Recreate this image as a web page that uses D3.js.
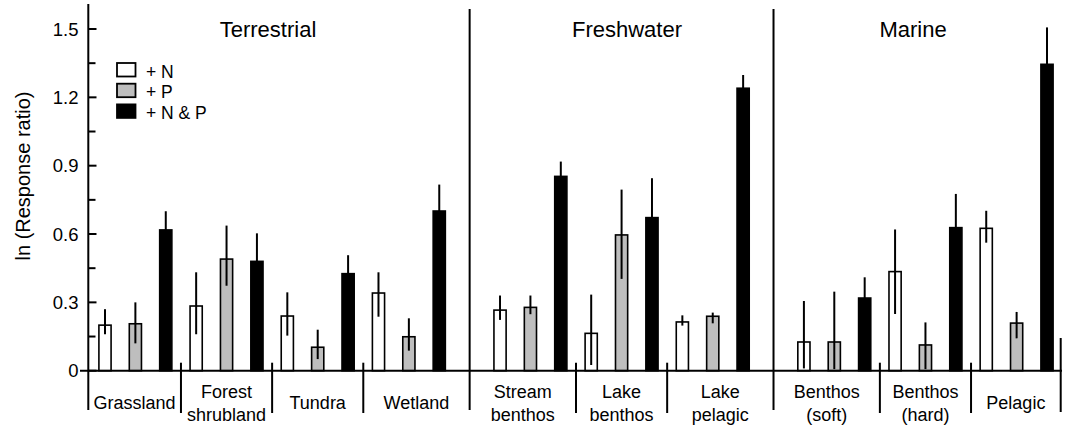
<!DOCTYPE html>
<html>
<head>
<meta charset="utf-8">
<script src="https://cdn.jsdelivr.net/npm/d3@7"></script>
<style>
  html, body { margin: 0; padding: 0; background: #fff; }
  svg { display: block; font-family: "Liberation Sans", Arial, Helvetica, sans-serif; }
</style>
</head>
<body>
<svg id="chart" width="1065" height="429"></svg>
<script>
// ---- data ----
const categories = ["Grassland", "Forest shrubland", "Tundra", "Wetland",
  "Stream benthos", "Lake benthos", "Lake pelagic",
  "Benthos (soft)", "Benthos (hard)", "Pelagic"];
const categoryLines = [["Grassland"], ["Forest", "shrubland"], ["Tundra"], ["Wetland"],
  ["Stream", "benthos"], ["Lake", "benthos"], ["Lake", "pelagic"],
  ["Benthos", "(soft)"], ["Benthos", "(hard)"], ["Pelagic"]];
const sections = ["Terrestrial", "Freshwater", "Marine"];
const sectionCounts = [4, 3, 3];
const seriesNames = ["+ N", "+ P", "+ N & P"];

const valN  = [0.200, 0.284, 0.240, 0.341, 0.266, 0.164, 0.214, 0.126, 0.435, 0.625];
const hiN   = [0.270, 0.432, 0.344, 0.432, 0.330, 0.334, 0.243, 0.306, 0.620, 0.702];
const loN   = [0.160, 0.160, 0.154, 0.237, 0.223, 0.025, 0.198, 0.010, 0.249, 0.562];
const valP  = [0.206, 0.490, 0.103, 0.149, 0.278, 0.596, 0.239, 0.126, 0.113, 0.209];
const hiP   = [0.300, 0.637, 0.180, 0.230, 0.330, 0.795, 0.255, 0.347, 0.212, 0.258];
const loP   = [0.120, 0.373, 0.051, 0.088, 0.248, 0.403, 0.208, 0.007, 0.007, 0.142];
const valNP = [0.618, 0.480, 0.426, 0.701, 0.853, 0.672, 1.240, 0.319, 0.628, 1.345];
const hiNP  = [0.700, 0.603, 0.507, 0.817, 0.918, 0.845, 1.298, 0.410, 0.776, 1.507];
const loNP  = [0.536, 0.357, 0.345, 0.585, 0.788, 0.499, 1.182, 0.228, 0.480, 1.183];

const yTicks = [0, 0.3, 0.6, 0.9, 1.2, 1.5];
const yTickLabels = ["0", "0.3", "0.6", "0.9", "1.2", "1.5"];
const yMinorTicks = [0.15, 0.45, 0.75, 1.05, 1.35];

// ---- layout ----
const svg = d3.select("#chart");
const fills = ["#ffffff", "#bebebe", "#000000"];
const seriesVals = [valN, valP, valNP];
const seriesHi = [hiN, hiP, hiNP];
const seriesLo = [loN, loP, loNP];

// slot layout: 3 bars per category, one empty slot between sections
const slotOf = [];
const sectionStartSlot = [];
const sectionEndSlot = [];
let slot = 0, ci = 0;
sectionCounts.forEach((cnt) => {
  sectionStartSlot.push(slot);
  for (let k = 0; k < cnt; k++) {
    slotOf[ci] = [slot, slot + 1, slot + 2];
    slot += 3; ci++;
  }
  sectionEndSlot.push(slot - 1);
  slot += 1;
});
const nSlots = slot - 1;

const x = d3.scaleBand()
  .domain(d3.range(nSlots))
  .range([89.8, 1062.2])
  .paddingInner(0.55)
  .paddingOuter(0.275);
const step = x.step();
const cx = s => x(s) + x.bandwidth() / 2;

const y = d3.scaleLinear().domain([0, 1.5]).range([370.7, 29]);
const y0 = y(0);

// bars
const barData = [];
categories.forEach((c, i) => {
  for (let s = 0; s < 3; s++) {
    barData.push({ c: i, s, v: seriesVals[s][i], hi: seriesHi[s][i], lo: seriesLo[s][i] });
  }
});
const bw = x.bandwidth();
svg.append("g").selectAll("rect").data(barData).join("rect")
  .attr("x", d => x(slotOf[d.c][d.s]) + 0.75)
  .attr("width", bw - 1.5)
  .attr("y", d => y(d.v))
  .attr("height", d => y0 - y(d.v))
  .attr("fill", d => fills[d.s])
  .attr("stroke", "#000")
  .attr("stroke-width", 1.6);

// error bars
svg.append("g").selectAll("line").data(barData).join("line")
  .attr("x1", d => cx(slotOf[d.c][d.s]))
  .attr("x2", d => cx(slotOf[d.c][d.s]))
  .attr("y1", d => y(d.lo))
  .attr("y2", d => y(d.hi))
  .attr("stroke", "#000")
  .attr("stroke-width", 2);

// y axis
const axisG = svg.append("g");
axisG.append("line").attr("x1", 88.3).attr("x2", 88.3).attr("y1", 4).attr("y2", 410)
  .attr("stroke", "#000").attr("stroke-width", 2);
axisG.selectAll(".maj").data(yTicks).join("line")
  .attr("x1", 88.3).attr("x2", 96.5)
  .attr("y1", d => y(d)).attr("y2", d => y(d))
  .attr("stroke", "#000").attr("stroke-width", 2);
axisG.selectAll(".min").data(yMinorTicks).join("line")
  .attr("x1", 88.3).attr("x2", 95.5)
  .attr("y1", d => y(d)).attr("y2", d => y(d))
  .attr("stroke", "#000").attr("stroke-width", 2);
axisG.selectAll("text").data(yTicks).join("text")
  .attr("x", 78.5).attr("y", d => y(d))
  .attr("dy", "0.36em")
  .attr("text-anchor", "end")
  .attr("font-size", 18.5)
  .text((d, i) => yTickLabels[i]);

svg.append("text")
  .attr("transform", "translate(30,176) rotate(-90)")
  .attr("text-anchor", "middle")
  .attr("font-size", 20)
  .text("ln (Response ratio)");

// baseline
svg.append("line").attr("x1", 80).attr("x2", 1062).attr("y1", y0).attr("y2", y0)
  .attr("stroke", "#000").attr("stroke-width", 2);

// category dividers
const catBounds = [];
categories.forEach((c, i) => {
  catBounds.push({ left: cx(slotOf[i][0]) - step / 2, right: cx(slotOf[i][2]) + step / 2 });
});
const divG = svg.append("g");
const innerDivs = [];
let cc = 0;
sectionCounts.forEach((cnt) => {
  for (let k = 1; k < cnt; k++) innerDivs.push(catBounds[cc + k].left);
  cc += cnt;
});
divG.selectAll(".inner").data(innerDivs).join("line")
  .attr("x1", d => d).attr("x2", d => d)
  .attr("y1", y0 - 8).attr("y2", 413)
  .attr("stroke", "#000").attr("stroke-width", 2);
const secDivs = [cx(sectionStartSlot[1] - 1), cx(sectionStartSlot[2] - 1)];
divG.selectAll(".sec").data(secDivs).join("line")
  .attr("x1", d => d).attr("x2", d => d)
  .attr("y1", 9).attr("y2", 410)
  .attr("stroke", "#000").attr("stroke-width", 2);
const rightEnd = cx(sectionEndSlot[2]) + step / 2 - 1.5;
divG.append("line").attr("x1", rightEnd).attr("x2", rightEnd)
  .attr("y1", 338).attr("y2", 412)
  .attr("stroke", "#000").attr("stroke-width", 2);

// category labels
const labG = svg.append("g").attr("font-size", 18).attr("text-anchor", "middle");
categories.forEach((c, i) => {
  const lines = categoryLines[i];
  let left = i === 0 ? 88.3 : catBounds[i].left;
  let right = catBounds[i].right;
  if (i === 3) right = secDivs[0];
  if (i === 4) left = secDivs[0];
  if (i === 6) right = secDivs[1];
  if (i === 7) left = secDivs[1];
  if (i === 9) right = rightEnd;
  const lx = (left + right) / 2;
  if (lines.length === 1) {
    labG.append("text").attr("x", lx).attr("y", 409).text(lines[0]);
  } else {
    labG.append("text").attr("x", lx).attr("y", 398).text(lines[0]);
    labG.append("text").attr("x", lx).attr("y", 420.5).text(lines[1]);
  }
});

// section titles
const titleX = [268, 627, 913];
svg.append("g").selectAll("text").data(sections).join("text")
  .attr("x", (d, i) => titleX[i]).attr("y", 37)
  .attr("text-anchor", "middle")
  .attr("font-size", 22)
  .text(d => d);

// legend
const leg = svg.append("g").attr("transform", "translate(117,63)");
seriesNames.forEach((n, i) => {
  leg.append("rect").attr("x", 0).attr("y", i * 20.7)
    .attr("width", 18.5).attr("height", 13.5)
    .attr("fill", fills[i]).attr("stroke", "#000").attr("stroke-width", 1.8);
  leg.append("text").attr("x", 29).attr("y", i * 20.7 + 14.5)
    .attr("font-size", 17.5).text(n);
});
</script>
</body>
</html>
